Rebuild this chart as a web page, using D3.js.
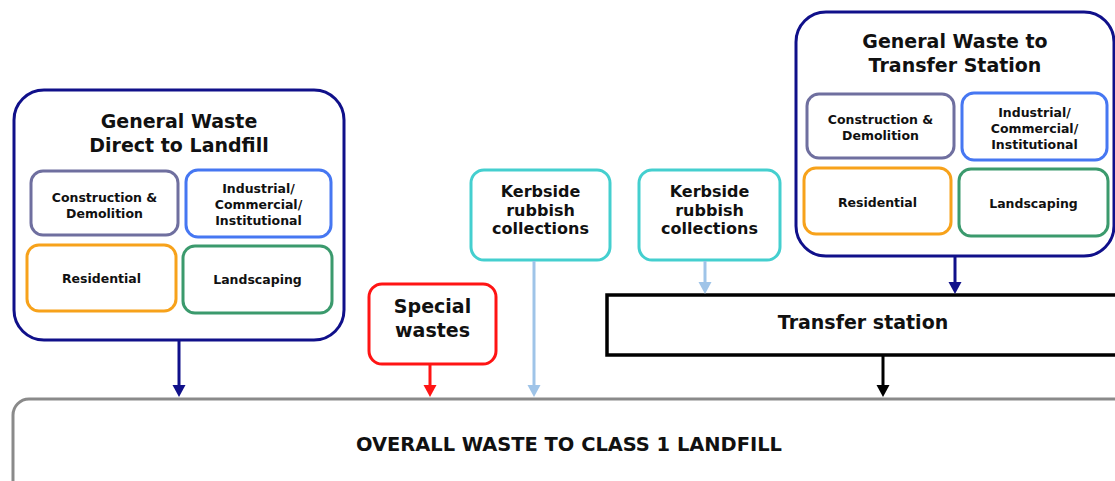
<!DOCTYPE html>
<html><head><meta charset="utf-8">
<script src="https://cdn.jsdelivr.net/npm/d3@7"></script>
<style>html,body{margin:0;padding:0;background:#fff;}svg{display:block;}</style>
</head><body>
<svg id="chart" width="1115" height="481"></svg>
<script>
// ---- data (labels only) ----
const groupTitles = ["General Waste|Direct to Landfill", "General Waste to|Transfer Station"];
const sourceCategories = ["Construction &|Demolition", "Industrial/|Commercial/|Institutional", "Residential", "Landscaping"];
const otherSources = ["Special|wastes", "Kerbside|rubbish|collections", "Kerbside|rubbish|collections"];
const intermediate = ["Transfer station"];
const destination = ["OVERALL WASTE TO CLASS 1 LANDFILL"];
// flows: [from, to]
const flows = [
  ["group0", "dest"], ["other0", "dest"], ["other1", "dest"],
  ["other2", "inter"], ["group1", "inter"], ["inter", "dest"]
];

// ---- styling / layout (kept separate) ----
const C = {
  navy: "#10108a", cd: "#6f6f9f", ici: "#4677f2", res: "#f7a21b", land: "#3b9a6d",
  teal: "#44cfcf", light: "#9fc4e8", red: "#ff1414", black: "#000", gray: "#8a8a8a"
};
const catColors = [C.cd, C.ici, C.res, C.land];
const FONT = "Verdana, 'DejaVu Sans', sans-serif";

const svg = d3.select("#chart");

const groupLayout = [
  {x: 14, y: 90, w: 330, h: 250, titleY: 128, cats: [
    {x: 31, y: 171, w: 147, h: 64, by: 202},
    {x: 186, y: 170, w: 145, h: 67, by: 193},
    {x: 27, y: 245, w: 149, h: 66, by: 283},
    {x: 183, y: 246, w: 149, h: 67, by: 284}]},
  {x: 796, y: 12, w: 318, h: 244, titleY: 48, cats: [
    {x: 807, y: 94, w: 147, h: 64, by: 124},
    {x: 962, y: 93, w: 145, h: 67, by: 117},
    {x: 804, y: 168, w: 147, h: 66, by: 207},
    {x: 959, y: 169, w: 149, h: 67, by: 208}]}
];
const otherLayout = [
  {x: 369, y: 284, w: 127, h: 80, by: 313, fs: 19, ls: 24, color: C.red, arrowX: 430},
  {x: 471, y: 170, w: 139, h: 90, by: 197, fs: 16, ls: 18.5, color: C.teal, arrowX: 534},
  {x: 639, y: 170, w: 141, h: 90, by: 197, fs: 16, ls: 18.5, color: C.teal, arrowX: 705}
];
const interLayout = {x: 607, y: 295, w: 520, h: 60, by: 329, fs: 19};
const destLayout = {x: 13, y: 399, w: 1120, h: 100, by: 451, fs: 18};

function multiline(g, label, cx, by, fs, ls) {
  const t = g.append("text").attr("text-anchor", "middle")
    .attr("font-family", FONT).attr("font-weight", "bold")
    .attr("font-size", fs).attr("fill", "#111");
  label.split("|").forEach((s, i) => {
    t.append("tspan").attr("x", cx).attr("y", by + i * ls).text(s);
  });
  return t;
}

// groups
const groups = svg.selectAll("g.group").data(groupTitles).join("g").attr("class", "group");
groups.each(function(title, gi) {
  const L = groupLayout[gi], g = d3.select(this);
  g.append("rect").attr("x", L.x).attr("y", L.y).attr("width", L.w).attr("height", L.h)
    .attr("rx", 30).attr("fill", "#fff").attr("stroke", C.navy).attr("stroke-width", 3);
  multiline(g, title, L.x + L.w / 2, L.titleY, 19, 23.5);
  g.selectAll("g.cat").data(sourceCategories).join("g").attr("class", "cat").each(function(lab, ci) {
    const c = L.cats[ci], cg = d3.select(this);
    cg.append("rect").attr("x", c.x).attr("y", c.y).attr("width", c.w).attr("height", c.h)
      .attr("rx", 12).attr("fill", "#fff").attr("stroke", catColors[ci]).attr("stroke-width", 3);
    multiline(cg, lab, c.x + c.w / 2, c.by, 12.5, 16);
  });
});

// other sources
svg.selectAll("g.other").data(otherSources).join("g").attr("class", "other").each(function(lab, i) {
  const L = otherLayout[i], g = d3.select(this);
  g.append("rect").attr("x", L.x).attr("y", L.y).attr("width", L.w).attr("height", L.h)
    .attr("rx", 13).attr("fill", "#fff").attr("stroke", L.color).attr("stroke-width", 3);
  multiline(g, lab, L.x + L.w / 2, L.by, L.fs, L.ls);
});

// intermediate
svg.selectAll("g.inter").data(intermediate).join("g").attr("class", "inter").each(function(lab) {
  const L = interLayout, g = d3.select(this);
  g.append("rect").attr("x", L.x).attr("y", L.y).attr("width", L.w).attr("height", L.h)
    .attr("fill", "#fff").attr("stroke", C.black).attr("stroke-width", 3.5);
  multiline(g, lab, 863, L.by, L.fs, 20);
});

// destination
svg.selectAll("g.dest").data(destination).join("g").attr("class", "dest").each(function(lab) {
  const L = destLayout, g = d3.select(this);
  g.append("rect").attr("x", L.x).attr("y", L.y).attr("width", L.w).attr("height", L.h)
    .attr("rx", 16).attr("fill", "#fff").attr("stroke", C.gray).attr("stroke-width", 3);
  g.append("text").attr("x", 569).attr("y", L.by).attr("text-anchor", "middle")
    .attr("font-family", "'DejaVu Sans Condensed', 'Liberation Sans Narrow', sans-serif")
    .attr("font-stretch", "condensed")
    .attr("font-weight", "bold").attr("font-size", 20).attr("fill", "#111")
    .attr("textLength", 426).attr("lengthAdjust", "spacingAndGlyphs").text(lab);
});

// arrows
function endpoints(f) {
  const [from, to] = f;
  let x, y1, color;
  if (from.startsWith("group")) {
    const L = groupLayout[+from.slice(5)];
    x = L.x + L.w / 2; y1 = L.y + L.h; color = C.navy;
  } else if (from.startsWith("other")) {
    const L = otherLayout[+from.slice(5)];
    x = L.arrowX; y1 = L.y + L.h; color = L.color === C.red ? C.red : C.light;
  } else {
    x = 883; y1 = interLayout.y + interLayout.h; color = C.black;
  }
  const y2 = to === "dest" ? destLayout.y - 2 : interLayout.y - 1;
  return {x, y1, y2, color};
}
const arrows = svg.selectAll("g.arrow").data(flows.map(endpoints)).join("g").attr("class", "arrow");
arrows.append("line").attr("x1", d => d.x).attr("x2", d => d.x)
  .attr("y1", d => d.y1 + 1).attr("y2", d => d.y2 - 8)
  .attr("stroke", d => d.color).attr("stroke-width", 3);
arrows.append("path")
  .attr("d", d => `M${d.x - 6.5},${d.y2 - 12}L${d.x + 6.5},${d.y2 - 12}L${d.x},${d.y2}Z`)
  .attr("fill", d => d.color);
</script>
</body></html>
